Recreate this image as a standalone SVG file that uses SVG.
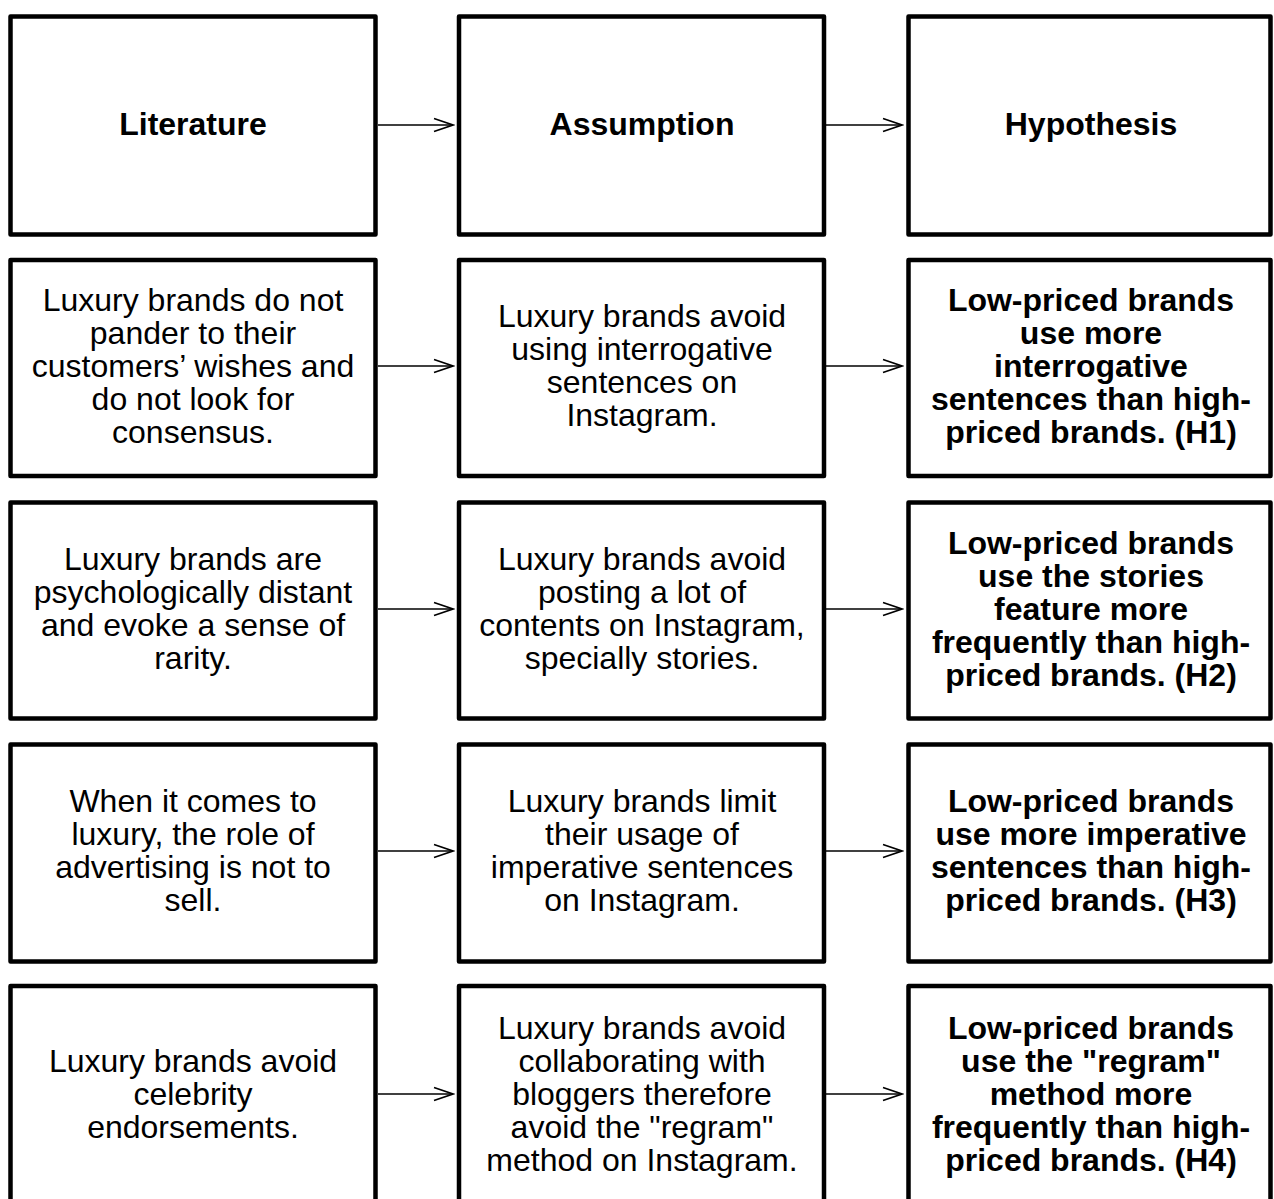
<svg xmlns="http://www.w3.org/2000/svg" width="1274" height="1199" viewBox="0 0 1274 1199">
<defs>
<style>
.box{fill:#fff;stroke:#000;stroke-width:4.5;stroke-linejoin:round}
.t{font-family:"Liberation Sans",Arial,sans-serif;font-size:32px;fill:#000;text-anchor:middle}
.b{font-weight:bold}
.c{stroke:#000;stroke-width:1.5;fill:none}
</style>
<marker id="ah" markerUnits="userSpaceOnUse" markerWidth="22" markerHeight="16" refX="20" refY="8" orient="auto" viewBox="0 0 22 16">
<path d="M1,1.5 L20,8 L1,14.5" fill="none" stroke="#000" stroke-width="1.6"/>
</marker>
</defs>
<rect width="1274" height="1199" fill="#fff"/>

<g id="connectors">
<line class="c" x1="378" y1="125" x2="453" y2="125" marker-end="url(#ah)"/>
<line class="c" x1="826" y1="125" x2="902" y2="125" marker-end="url(#ah)"/>
<line class="c" x1="378" y1="366" x2="453" y2="366" marker-end="url(#ah)"/>
<line class="c" x1="826" y1="366" x2="902" y2="366" marker-end="url(#ah)"/>
<line class="c" x1="378" y1="609" x2="453" y2="609" marker-end="url(#ah)"/>
<line class="c" x1="826" y1="609" x2="902" y2="609" marker-end="url(#ah)"/>
<line class="c" x1="378" y1="851" x2="453" y2="851" marker-end="url(#ah)"/>
<line class="c" x1="826" y1="851" x2="902" y2="851" marker-end="url(#ah)"/>
<line class="c" x1="378" y1="1094" x2="453" y2="1094" marker-end="url(#ah)"/>
<line class="c" x1="826" y1="1094" x2="902" y2="1094" marker-end="url(#ah)"/>
</g>

<g id="lit-head"><rect class="box" x="10.5" y="16.5" width="365" height="218"/>
<text class="t b" x="193" y="135">Literature</text></g>
<g id="asm-head"><rect class="box" x="459" y="16.5" width="365" height="218"/>
<text class="t b" x="642" y="135">Assumption</text></g>
<g id="hyp-head"><rect class="box" x="908.5" y="16.5" width="362" height="218"/>
<text class="t b" x="1091" y="135">Hypothesis</text></g>

<g id="lit-1"><rect class="box" x="10.5" y="260" width="365" height="216"/>
<text class="t" x="193" y="311">Luxury brands do not</text>
<text class="t" x="193" y="344">pander to their</text>
<text class="t" x="193" y="377">customers’ wishes and</text>
<text class="t" x="193" y="410">do not look for</text>
<text class="t" x="193" y="443">consensus.</text></g>
<g id="asm-1"><rect class="box" x="459" y="260" width="365" height="216"/>
<text class="t" x="642" y="327">Luxury brands avoid</text>
<text class="t" x="642" y="360">using interrogative</text>
<text class="t" x="642" y="393">sentences on</text>
<text class="t" x="642" y="426">Instagram.</text></g>
<g id="hyp-1"><rect class="box" x="908.5" y="260" width="362" height="216"/>
<text class="t b" x="1091" y="311">Low-priced brands</text>
<text class="t b" x="1091" y="344">use more</text>
<text class="t b" x="1091" y="377">interrogative</text>
<text class="t b" x="1091" y="410">sentences than high-</text>
<text class="t b" x="1091" y="443">priced brands. (H1)</text></g>

<g id="lit-2"><rect class="box" x="10.5" y="502.5" width="365" height="216"/>
<text class="t" x="193" y="570">Luxury brands are</text>
<text class="t" x="193" y="603">psychologically distant</text>
<text class="t" x="193" y="636">and evoke a sense of</text>
<text class="t" x="193" y="669">rarity.</text></g>
<g id="asm-2"><rect class="box" x="459" y="502.5" width="365" height="216"/>
<text class="t" x="642" y="570">Luxury brands avoid</text>
<text class="t" x="642" y="603">posting a lot of</text>
<text class="t" x="642" y="636">contents on Instagram,</text>
<text class="t" x="642" y="669">specially stories.</text></g>
<g id="hyp-2"><rect class="box" x="908.5" y="502.5" width="362" height="216"/>
<text class="t b" x="1091" y="554">Low-priced brands</text>
<text class="t b" x="1091" y="587">use the stories</text>
<text class="t b" x="1091" y="620">feature more</text>
<text class="t b" x="1091" y="653">frequently than high-</text>
<text class="t b" x="1091" y="686">priced brands. (H2)</text></g>

<g id="lit-3"><rect class="box" x="10.5" y="744.5" width="365" height="217"/>
<text class="t" x="193" y="812">When it comes to</text>
<text class="t" x="193" y="845">luxury, the role of</text>
<text class="t" x="193" y="878">advertising is not to</text>
<text class="t" x="193" y="911">sell.</text></g>
<g id="asm-3"><rect class="box" x="459" y="744.5" width="365" height="217"/>
<text class="t" x="642" y="812">Luxury brands limit</text>
<text class="t" x="642" y="845">their usage of</text>
<text class="t" x="642" y="878">imperative sentences</text>
<text class="t" x="642" y="911">on Instagram.</text></g>
<g id="hyp-3"><rect class="box" x="908.5" y="744.5" width="362" height="217"/>
<text class="t b" x="1091" y="812">Low-priced brands</text>
<text class="t b" x="1091" y="845">use more imperative</text>
<text class="t b" x="1091" y="878">sentences than high-</text>
<text class="t b" x="1091" y="911">priced brands. (H3)</text></g>

<g id="lit-4"><rect class="box" x="10.5" y="986" width="365" height="240"/>
<text class="t" x="193" y="1072">Luxury brands avoid</text>
<text class="t" x="193" y="1105">celebrity</text>
<text class="t" x="193" y="1138">endorsements.</text></g>
<g id="asm-4"><rect class="box" x="459" y="986" width="365" height="240"/>
<text class="t" x="642" y="1039">Luxury brands avoid</text>
<text class="t" x="642" y="1072">collaborating with</text>
<text class="t" x="642" y="1105">bloggers therefore</text>
<text class="t" x="642" y="1138">avoid the "regram"</text>
<text class="t" x="642" y="1171">method on Instagram.</text></g>
<g id="hyp-4"><rect class="box" x="908.5" y="986" width="362" height="240"/>
<text class="t b" x="1091" y="1039">Low-priced brands</text>
<text class="t b" x="1091" y="1072">use the "regram"</text>
<text class="t b" x="1091" y="1105">method more</text>
<text class="t b" x="1091" y="1138">frequently than high-</text>
<text class="t b" x="1091" y="1171">priced brands. (H4)</text></g>
</svg>
